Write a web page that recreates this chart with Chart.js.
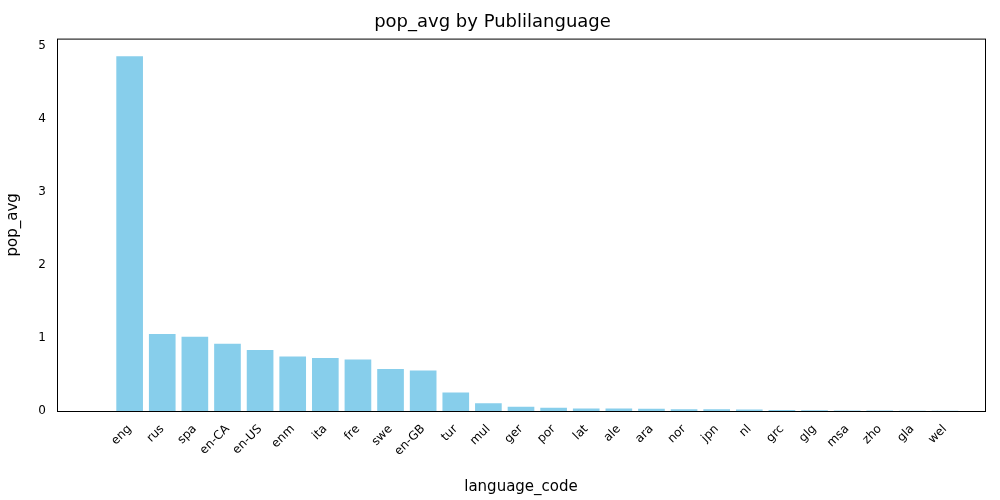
<!DOCTYPE html>
<html><head><meta charset="utf-8">
<script src="https://cdn.jsdelivr.net/npm/chart.js@4"></script>
<style>body{margin:0;background:#fff}#w{width:1000px;height:500px}</style>
</head><body><div id="w"><canvas id="c"></canvas></div>
<script>
const languages = ['eng','rus','spa','en-CA','en-US','enm','ita','fre','swe','en-GB','tur','mul','ger','por','lat','ale','ara','nor','jpn','nl','grc','glg','msa','zho','gla','wel','srp'];
const popAvg = [4.85,1.05,1.01,0.915,0.83,0.74,0.72,0.70,0.57,0.55,0.25,0.10,0.055,0.04,0.03,0.03,0.025,0.02,0.02,0.015,0.01,0.005,0.002,0.001,0,0,0];
languages.splice(26); popAvg.splice(26);

// frame around plot area like matplotlib spines
const frame = {
  id: 'frame',
  afterDraw(ch) {
    const a = ch.chartArea, x = ch.ctx;
    x.save(); x.strokeStyle = '#000'; x.lineWidth = 1;
    x.strokeRect(a.left + 0.5, a.top + 0.5, a.right - a.left, a.bottom - a.top);
    x.restore();
  }
};

new Chart(document.getElementById('c'), {
  type: 'bar',
  data: {
    datasets: [{
      data: popAvg.map((v, i) => ({x: i, y: v})),
      backgroundColor: '#87ceeb',
      barThickness: 26
    }]
  },
  options: {
    animation: false, responsive: true, maintainAspectRatio: false,
    layout: {padding: {left: 0, right: 15, top: 0, bottom: 0}},
    plugins: {
      legend: {display: false}, tooltip: {enabled: false},
      title: {display: true, text: 'pop_avg by Publilanguage', color: '#000',
        font: {family: 'DejaVu Sans', size: 18, weight: 'normal'}, padding: {top: 12, bottom: 5}}
    },
    scales: {
      x: {
        type: 'linear', min: -1.68, max: 26.68 - 1,
        grid: {display: false}, border: {display: false},
        afterBuildTicks(s) { s.ticks = languages.map((_, i) => ({value: i})); },
        ticks: {autoSkip: false, maxRotation: 45, minRotation: 45, color: '#000',
          font: {family: 'DejaVu Sans', size: 12},
          callback: v => languages[v]},
        title: {display: true, text: 'language_code', color: '#000',
          font: {family: 'DejaVu Sans', size: 15}},
        afterFit(s) { s.height = 89; }
      },
      y: {
        min: 0, max: 5.095,
        grid: {display: false, drawTicks: true}, border: {display: false},
        afterBuildTicks(s) { s.ticks = [0,1,2,3,4,5].map(v => ({value: v})); },
        ticks: {color: '#000', font: {family: 'DejaVu Sans', size: 12}},
        title: {display: true, text: 'pop_avg', color: '#000',
          font: {family: 'DejaVu Sans', size: 15}},
        afterFit(s) { s.width = 57; }
      }
    }
  },
  plugins: [frame]
});
</script></body></html>
